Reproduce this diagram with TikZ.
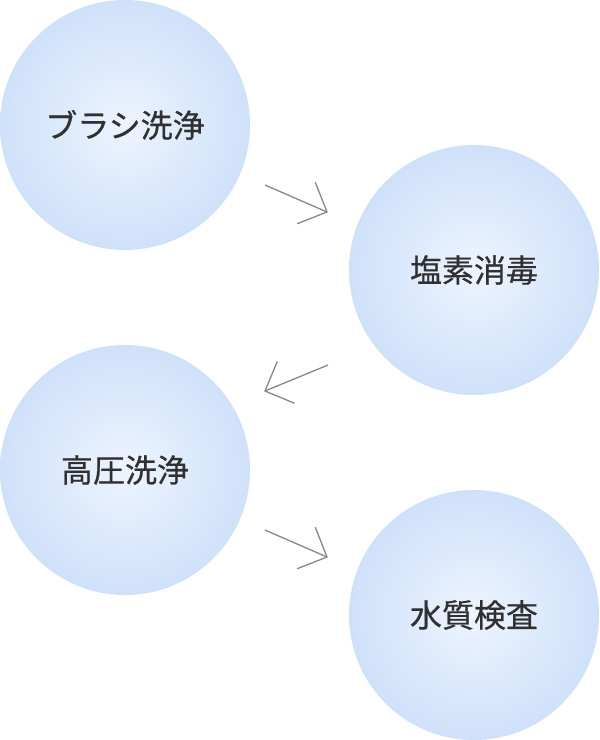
\documentclass[tikz,border=0pt]{standalone}
\usepackage{fontspec}
\newfontfamily\jpfont[FakeBold=0.6]{Noto Sans CJK JP}
\usetikzlibrary{calc}
\definecolor{bubin}{RGB}{237,244,254}
\definecolor{bubout}{RGB}{207,225,250}
\definecolor{txt}{RGB}{48,48,48}
\definecolor{arrgray}{RGB}{136,136,136}
\tikzset{
  bubble/.style={circle, minimum size=250pt, inner sep=0pt, shading=radial,
    inner color=bubin, outer color=bubout, text=txt,
    font=\jpfont\fontsize{32}{38}\selectfont},
  chev/.style={draw=arrgray, line width=1.3pt, line join=miter}
}
\begin{document}
\begin{tikzpicture}[x=1pt,y=-1pt]
\useasboundingbox (0,0) rectangle (600,740);
\node[bubble] (c1) at (125,125) {ブラシ洗浄};
\node[bubble] (c2) at (474,270) {塩素消毒};
\node[bubble] (c3) at (125,470) {高圧洗浄};
\node[bubble] (c4) at (474,615) {水質検査};
\coordinate (t1) at (265,185); \coordinate (h1) at (327,212);
\coordinate (t2) at (328,365); \coordinate (h2) at (265,391);
\coordinate (t3) at (265,530); \coordinate (h3) at (327,557);
\foreach \t/\h in {t1/h1,t2/h2,t3/h3}{
  \draw[chev] (\t) -- (\h);
  \draw[chev] ($(\h)!32pt!45:(\t)$) -- (\h) -- ($(\h)!32pt!-45:(\t)$);
}
\end{tikzpicture}
\end{document}
